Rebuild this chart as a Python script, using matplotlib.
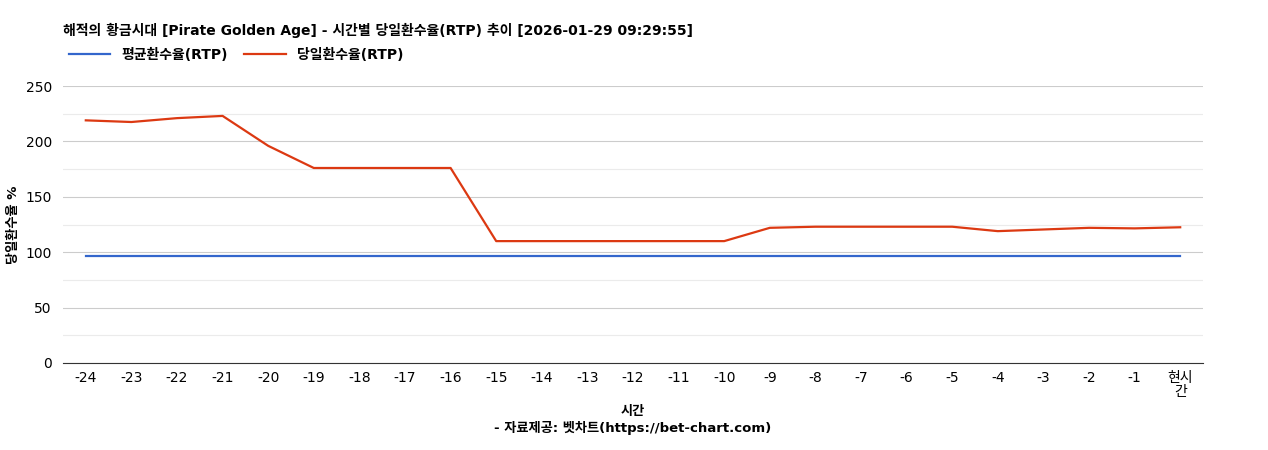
import matplotlib
matplotlib.use("Agg")
import matplotlib.pyplot as plt
from matplotlib.ticker import MultipleLocator

plt.rcParams['font.family'] = ['DejaVu Sans', 'Noto Sans CJK KR']

labels = ['-24','-23','-22','-21','-20','-19','-18','-17','-16','-15','-14','-13','-12',
          '-11','-10','-9','-8','-7','-6','-5','-4','-3','-2','-1','현시\n간']
avg_rtp = [96.6]*25
day_rtp = [219,217.5,221,223,196,176,176,176,176,110,110,110,110,110,110,122,123,123,123,123,119,120.5,122,121.5,122.5]

fig = plt.figure(figsize=(12.68,4.5), dpi=100)
ax = fig.add_axes([63/1268, 1-363/450, (1203-63)/1268, (363-86)/450])
x = list(range(len(labels)))
ax.plot(x, avg_rtp, color='#3366cc', lw=1.6, label='평균환수율(RTP)')
ax.plot(x, day_rtp, color='#dc3912', lw=1.6, label='당일환수율(RTP)')
ax.set_xlim(-0.5, len(labels)-0.5)
ax.set_ylim(0, 250)
ax.yaxis.set_major_locator(MultipleLocator(50))
ax.yaxis.set_minor_locator(MultipleLocator(25))
ax.grid(axis='y', which='major', color='#cccccc', lw=0.8)
ax.grid(axis='y', which='minor', color='#ebebeb', lw=0.8)
ax.set_axisbelow(True)
ax.set_xticks(x)
ax.set_xticklabels(labels, fontsize=10, linespacing=1.0)
ax.tick_params(axis='y', which='both', labelsize=10, length=0, pad=8)
ax.tick_params(axis='x', length=0, pad=6)
for s in ['top','right','left']:
    ax.spines[s].set_visible(False)
ax.spines['bottom'].set_color('#333333')
ax.set_ylabel('당일환수율 %', fontsize=9.5, fontweight='bold')
ax.set_xlabel('시간\n- 자료제공: 벳차트(https://bet-chart.com)', fontsize=9.5, fontweight='bold', linespacing=1.3)
fig.text(63/1268, 1-30/450, '해적의 황금시대 [Pirate Golden Age] - 시간별 당일환수율(RTP) 추이 [2026-01-29 09:29:55]',
         fontsize=10, fontweight='bold', va='center', ha='left')
fig.legend(loc='center left', bbox_to_anchor=(56/1268, 1-55/450), ncol=2, frameon=False,
           prop={'weight':'bold', 'size':10}, handlelength=3, columnspacing=1.2)
fig.savefig('out.png', dpi=100)
